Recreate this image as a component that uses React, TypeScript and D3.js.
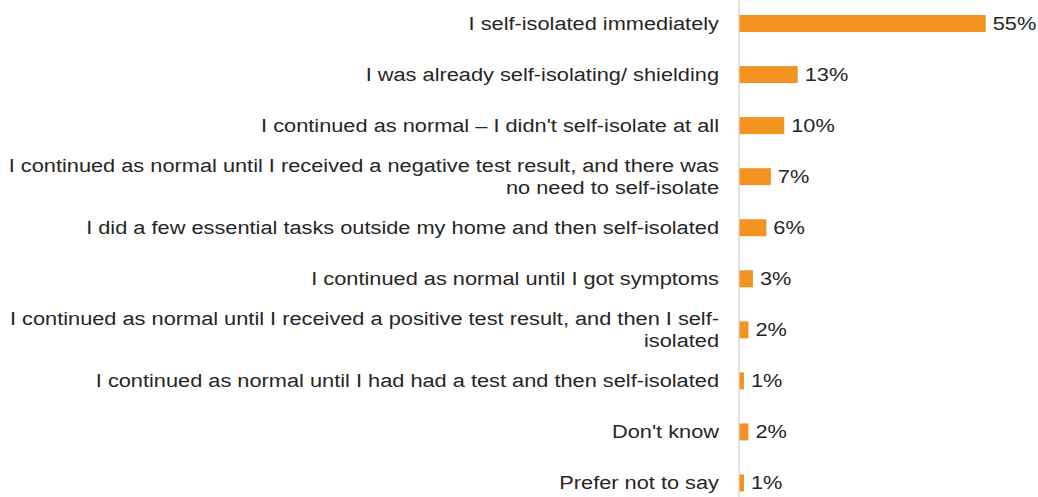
import * as d3 from 'd3'
import { FC, useEffect, useRef } from 'react'

const categories = [
  'I self-isolated immediately',
  'I was already self-isolating/ shielding',
  "I continued as normal – I didn't self-isolate at all",
  'I continued as normal until I received a negative test result, and there was\nno need to self-isolate',
  'I did a few essential tasks outside my home and then self-isolated',
  'I continued as normal until I got symptoms',
  'I continued as normal until I received a positive test result, and then I self-\nisolated',
  'I continued as normal until I had had a test and then self-isolated',
  "Don't know",
  'Prefer not to say',
]
const values = [55, 13, 10, 7, 6, 3, 2, 1, 2, 1]

const W = 1038
const H = 497
const SX = 1.21 // text in the original is stretched horizontally

const App: FC = () => {
  const ref = useRef<SVGSVGElement>(null)
  useEffect(() => {
    const svg = d3.select(ref.current)
    svg.selectAll('*').remove()
    const x = d3.scaleLinear().domain([0, 55]).range([739.5, 985.7])
    const y = d3.scaleBand().domain(categories).range([0, 506.5]).paddingInner(0.667).paddingOuter(0.294)
    const font = 'Liberation Sans, Arial, sans-serif'
    // axis line
    svg.append('line').attr('x1', 739).attr('x2', 739).attr('y1', 0).attr('y2', H)
      .attr('stroke', '#d9d9d9').attr('stroke-width', 1.5)
    svg.selectAll('rect.bar').data(values).enter().append('rect').attr('class', 'bar')
      .attr('x', x(0)).attr('y', (d, i) => y(categories[i]) as number)
      .attr('width', d => x(d) - x(0)).attr('height', y.bandwidth())
      .attr('fill', '#F39422')
    svg.selectAll('text.val').data(values).enter().append('text').attr('class', 'val')
      .attr('transform', (d, i) => `translate(${x(d) + 7},${(y(categories[i]) as number) + y.bandwidth() / 2}) scale(${SX},1)`)
      .attr('dy', '0.35em').attr('font-family', font).attr('font-size', 18).attr('fill', '#262626')
      .text(d => `${d}%`)
    const labels = svg.append('g').attr('transform', `translate(719,0) scale(${SX},1)`)
      .selectAll('text.lab').data(categories).enter().append('text').attr('class', 'lab')
      .attr('text-anchor', 'end').attr('font-family', font).attr('font-size', 18).attr('fill', '#262626')
    labels.each(function (d) {
      const lines = d.split('\n')
      const cy = (y(d) as number) + y.bandwidth() / 2
      const lh = 22
      lines.forEach((ln, k) => {
        d3.select(this).append('tspan').attr('x', 0)
          .attr('y', cy + (k - (lines.length - 1) / 2) * lh).attr('dy', '0.35em').text(ln)
      })
    })
  }, [])
  return (
    <div style={{ position: 'absolute', left: 0, top: 0 }}>
      <svg ref={ref} width={W} height={H} style={{ display: 'block', background: '#fff' }} />
    </div>
  )
}
export default App
